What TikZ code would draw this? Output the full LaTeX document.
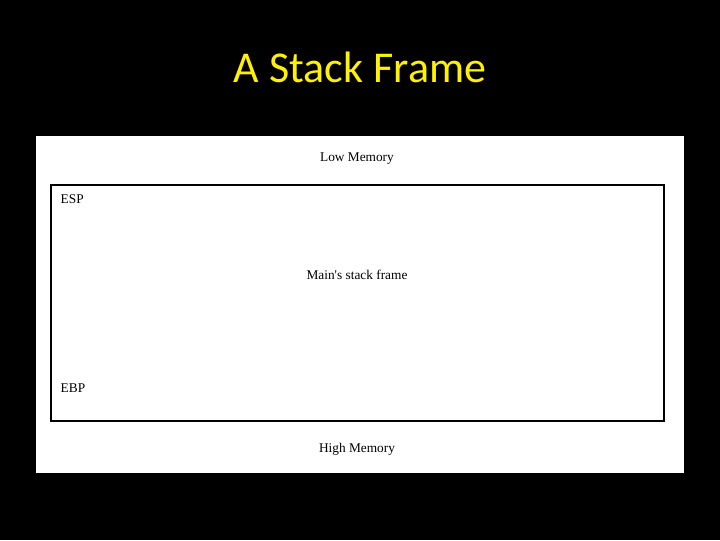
\documentclass[tikz,border=0pt]{standalone}
\usepackage{fontspec}
\setmainfont{Liberation Serif}
\newfontfamily\titlefont{Carlito}
\tikzset{
  memlabel/.style = {font = \fontsize{10}{12}\selectfont},
  reglabel/.style = {font = \fontsize{10}{12}\selectfont, anchor = west}
}
\begin{document}
\begin{tikzpicture}[x=0.75pt, y=-0.75pt]
\fill[black] (0,0) rectangle (720,540);
\node[text = yellow, font = \titlefont\fontsize{33}{38}\selectfont] (title) at (360,67) {A Stack Frame};
\fill[white] (36,136) rectangle (684,473);
\draw[line width = 1.6pt] (51,185) rectangle (664,421);
\node[memlabel] (low) at (357,159) {Low Memory};
\node[reglabel] (esp) at (56,199) {ESP};
\node[memlabel] (main) at (357,275) {Main\textquotesingle s stack frame};
\node[reglabel] (ebp) at (56,388) {EBP};
\node[memlabel] (high) at (357,449) {High Memory};
\end{tikzpicture}
\end{document}
